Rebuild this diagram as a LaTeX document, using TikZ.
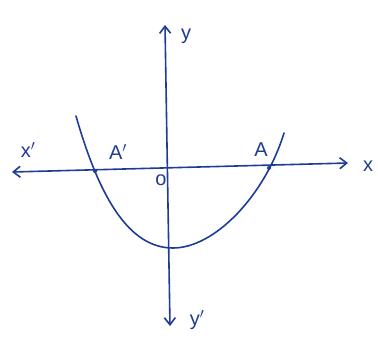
\documentclass[tikz,border=0pt]{standalone}
\usepackage{fontspec}
\setmainfont{Liberation Sans}
\usetikzlibrary{arrows.meta}
\definecolor{ink}{HTML}{1E3C96}
\begin{document}
\begin{tikzpicture}[x=1pt,y=-1pt,
  ink/.style={draw=ink, line width=1.6pt, line cap=round},
  axis/.style={ink, {Straight Barb[length=7pt,width=11pt]}-{Straight Barb[length=7pt,width=11pt]}},
  lbl/.style={text=ink, font=\fontsize{20}{20}\selectfont, inner sep=0pt},
  dot/.style={circle, fill=ink, inner sep=0pt, minimum size=4pt}]
\useasboundingbox (0,0) rectangle (378,348);
\coordinate (xl) at (12,172);
\coordinate (xr) at (348,163);
\coordinate (yt) at (165,25);
\coordinate (yb) at (170,326);
\draw[axis] (xl) -- (xr);
\draw[axis] (yb) -- (yt);
\coordinate (p1) at (76,116);
\coordinate (bot) at (173,248);
\coordinate (p2) at (284,133);
\draw[ink] (p1) .. controls (100,200) and (130,248) .. (bot)
  .. controls (215,248) and (265,195) .. (p2);
\node[dot] (Ap) at (95,171) {};
\node[dot] (A) at (269,168) {};
\node[lbl] (lxp) at (28,150) {x$'$};
\node[lbl] (lAp) at (118,152) {A$'$};
\node[lbl] (lO) at (161,180) {o};
\node[lbl] (lA) at (261,150) {A};
\node[lbl] (lX) at (368,166) {x};
\node[lbl] (lY) at (186,36) {y};
\node[lbl] (lyp) at (197,320) {y$'$};
\end{tikzpicture}
\end{document}
